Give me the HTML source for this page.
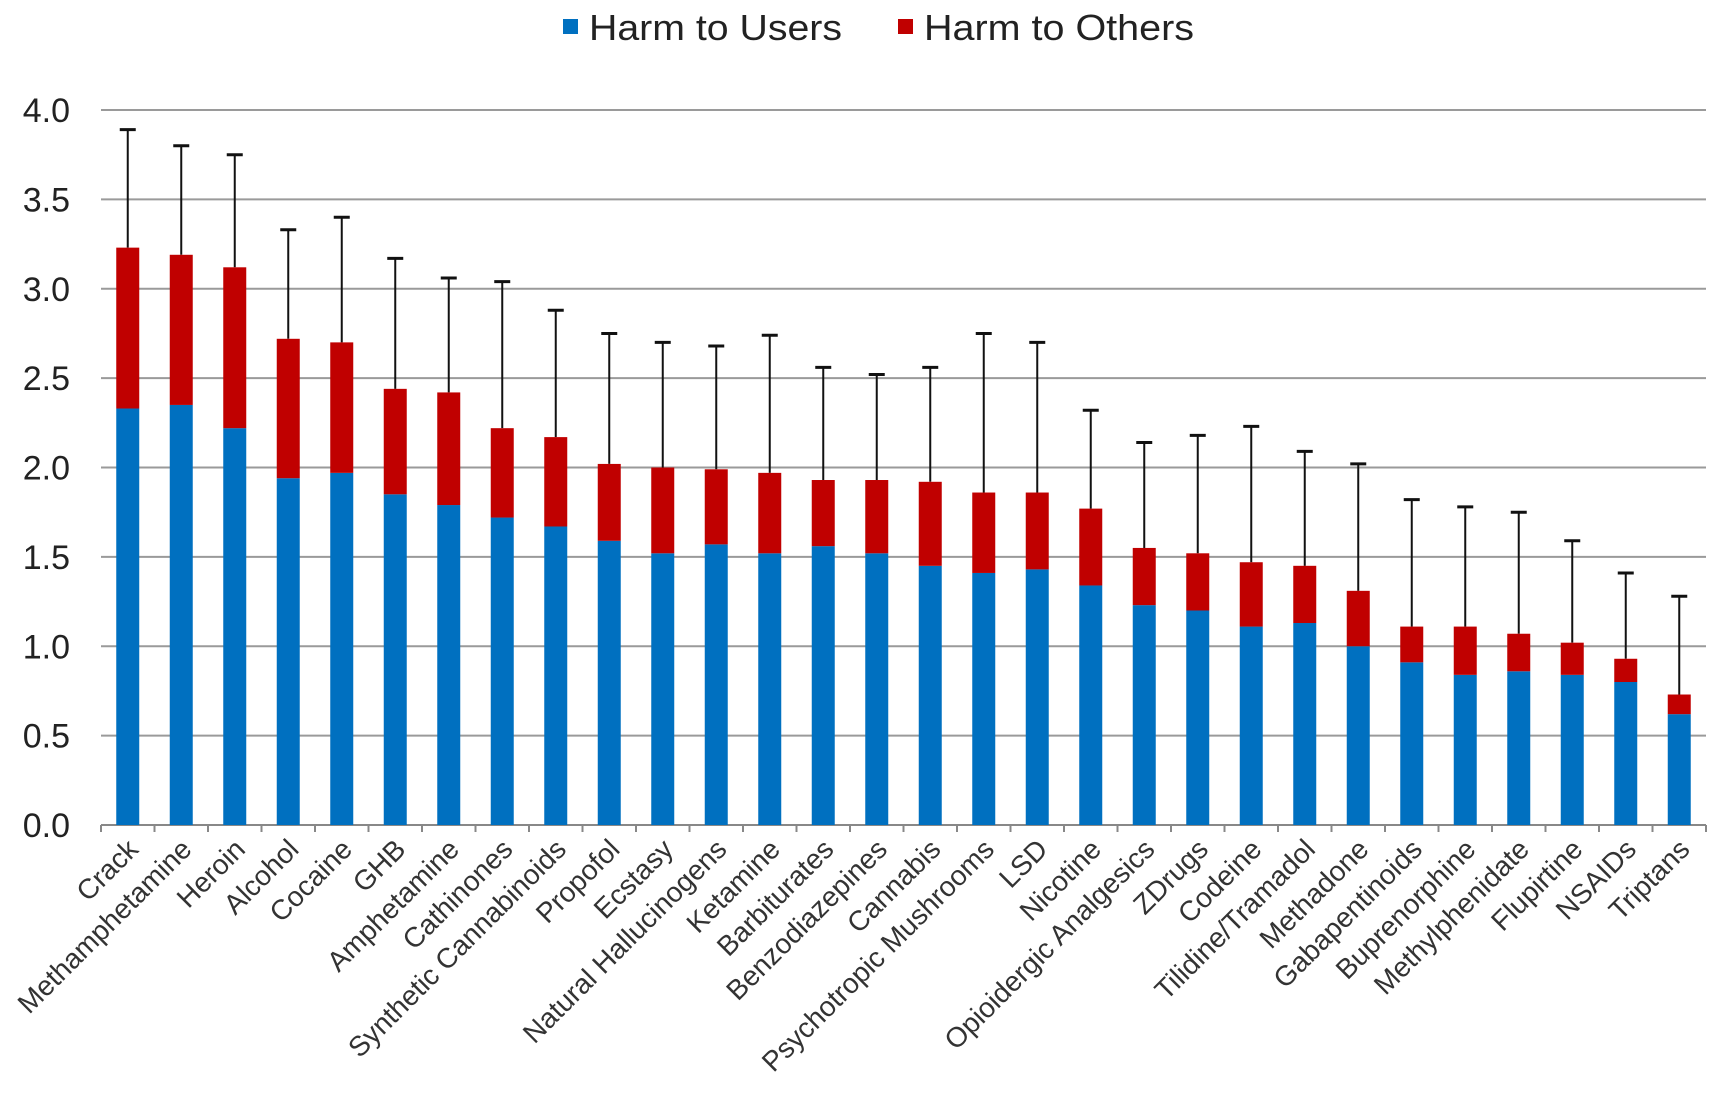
<!DOCTYPE html>
<html><head><meta charset="utf-8"><style>
html,body{margin:0;padding:0;background:#fff;}
svg{display:block;font-family:"Liberation Sans",Arial,sans-serif;}
</style></head><body>
<svg id="chart" width="1720" height="1119" viewBox="0 0 1720 1119" xmlns="http://www.w3.org/2000/svg">
<g>
<rect x="563" y="19" width="15" height="15" fill="#0070C0"/>
<text x="589" y="40" font-size="36" fill="#222" textLength="253" lengthAdjust="spacingAndGlyphs">Harm to Users</text>
<rect x="898" y="19" width="15" height="15" fill="#C00000"/>
<text x="924" y="40" font-size="36" fill="#222" textLength="270" lengthAdjust="spacingAndGlyphs">Harm to Others</text>
</g>
<g id="grid"></g><g id="bars"></g><g id="xlabels"></g>
</svg>
<script>
const categories=["Crack","Methamphetamine","Heroin","Alcohol","Cocaine","GHB","Amphetamine","Cathinones","Synthetic Cannabinoids","Propofol","Ecstasy","Natural Hallucinogens","Ketamine","Barbiturates","Benzodiazepines","Cannabis","Psychotropic Mushrooms","LSD","Nicotine","Opioidergic Analgesics","ZDrugs","Codeine","Tilidine/Tramadol","Methadone","Gabapentinoids","Buprenorphine","Methylphenidate","Flupirtine","NSAIDs","Triptans"];
const harmUsers=[2.33,2.35,2.22,1.94,1.97,1.85,1.79,1.72,1.67,1.59,1.52,1.57,1.52,1.56,1.52,1.45,1.41,1.43,1.34,1.23,1.20,1.11,1.13,1.00,0.91,0.84,0.86,0.84,0.80,0.62];
const harmTotal=[3.23,3.19,3.12,2.72,2.70,2.44,2.42,2.22,2.17,2.02,2.00,1.99,1.97,1.93,1.93,1.92,1.86,1.86,1.77,1.55,1.52,1.47,1.45,1.31,1.11,1.11,1.07,1.02,0.93,0.73];
const errorTop=[3.89,3.80,3.75,3.33,3.40,3.17,3.06,3.04,2.88,2.75,2.70,2.68,2.74,2.56,2.52,2.56,2.75,2.70,2.32,2.14,2.18,2.23,2.09,2.02,1.82,1.78,1.75,1.59,1.41,1.28];
const yTicks=[0,0.5,1,1.5,2,2.5,3,3.5,4];
const yTickLabels=["0.0","0.5","1.0","1.5","2.0","2.5","3.0","3.5","4.0"];

const NS="http://www.w3.org/2000/svg";
const L=101,R=1706,T=110,B=825,YMAX=4;
const y=v=>B-(v/YMAX)*(B-T);
const band=(R-L)/categories.length;
const xc=i=>L+band*(i+0.5);
const bw=23;
function mk(tag,attrs,parent){const e=document.createElementNS(NS,tag);for(const k in attrs)e.setAttribute(k,attrs[k]);parent.appendChild(e);return e;}
const grid=document.getElementById('grid'),bars=document.getElementById('bars'),xl=document.getElementById('xlabels');
yTicks.forEach((t,i)=>{
  if(t>0){const g=mk('line',{x1:L,x2:R,y1:y(t),y2:y(t),stroke:'#9a9a9a','stroke-width':2},grid);
  
  }
  const tx=mk('text',{x:70,y:y(t)+12,'font-size':34,'text-anchor':'end',fill:'#222'},grid);
  tx.textContent=yTickLabels[i];
  
  
});
const ax=mk('line',{x1:L,x2:R,y1:B,y2:B,stroke:'#888','stroke-width':2},grid);


for(let i=0;i<=categories.length;i++){
  const tk=mk('line',{x1:L+band*i,x2:L+band*i,y1:B,y2:B+7,stroke:'#888','stroke-width':2},grid);
  
  
}
categories.forEach((c,i)=>{
  const cx=xc(i);
  const e=mk('line',{x1:cx,x2:cx,y1:y(errorTop[i]),y2:y(harmTotal[i]),stroke:'#111','stroke-width':2},bars);
  
  
  const cap=mk('line',{x1:cx-8,x2:cx+8,y1:y(errorTop[i]),y2:y(errorTop[i]),stroke:'#111','stroke-width':3},bars);
  
  
  const ru=mk('rect',{x:cx-bw/2,y:y(harmUsers[i]),width:bw,height:B-y(harmUsers[i]),fill:'#0070C0'},bars);
  
  
  const ro=mk('rect',{x:cx-bw/2,y:y(harmTotal[i]),width:bw,height:y(harmUsers[i])-y(harmTotal[i]),fill:'#C00000'},bars);
  
  
  const lx=cx+12,ly=B+26;
  const t=mk('text',{x:lx,y:ly,'font-size':28,'text-anchor':'end',fill:'#333',transform:`rotate(-45 ${lx} ${ly})`},xl);
  t.textContent=c;
  
  
});
</script>
</body></html>
